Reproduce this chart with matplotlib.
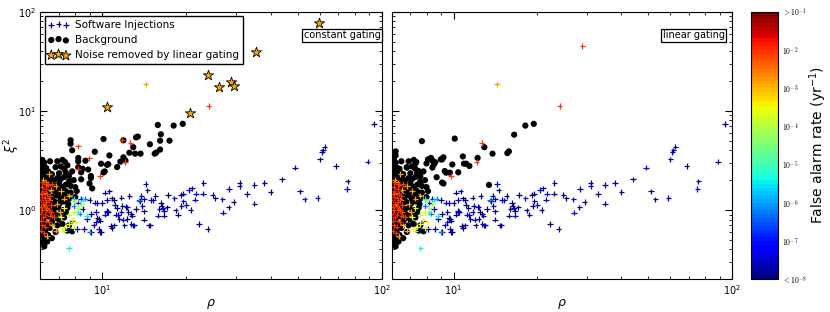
import numpy as np
import matplotlib
matplotlib.use('Agg')
import matplotlib.pyplot as plt
from matplotlib.colors import Normalize
from matplotlib.cm import ScalarMappable

# software injections (rho, xi^2), grouped by false alarm rate
inj_navy = [
    (94, 7.35), (61.5, 4.0), (62.5, 4.35), (60, 3.24), (68.5, 2.78), (75.5, 1.94), (53, 1.28),
    (51, 1.54), (44, 2.04), (40, 1.52), (35, 1.79), (35, 1.16), (31, 1.86), (29.5, 1.2),
    (28.4, 1.62), (28.3, 1.06), (25.4, 1.31), (23, 1.88), (22.9, 1.46), (23.8, 0.645),
    (22.2, 0.72), (20.9, 1.65), (20.7, 1.0), (19.4, 1.46), (19.2, 1.1), (18.7, 0.9),
    (18.3, 0.99), (16.6, 0.98), (16.2, 1.17), (16.0, 1.02), (15.5, 1.39), (14.7, 0.70),
    (14.5, 1.58), (14.1, 0.97), (14.1, 0.80), (13.6, 1.24), (13.2, 1.02), (12.9, 0.70),
    (12.4, 0.95), (12.3, 0.81), (12.0, 0.70), (11.8, 1.1), (11.7, 1.33), (11.5, 0.81),
    (11.3, 1.05), (11.1, 1.13), (10.8, 1.31), (10.8, 0.66), (10.6, 1.54), (10.5, 0.95),
    (10.2, 1.5), (9.9, 0.6), (9.8, 0.78), (9.6, 0.83), (9.4, 1.19), (9.3, 0.70), (9.1, 0.91),
    (8.8, 0.81), (8.6, 0.645), (8.5, 1.02), (8.1, 0.645), (7.6, 0.645), (12.5, 1.39),
    (13.8, 1.39), (17.2, 1.42), (19.1, 1.42), (17.1, 1.06), (16.3, 1.1), (15.8, 0.88),
    (14.8, 0.70), (13.9, 1.1), (12.7, 0.91), (12.2, 1.07), (11.9, 0.8), (13.0, 0.70),
    (11.4, 0.89), (11.0, 0.7), (10.4, 0.96), (9.7, 0.81), (9.8, 0.60), (9.1, 0.60),
    (10.7, 0.69), (9.0, 1.26), (10.0, 1.17), (11.0, 1.26), (20.0, 1.13), (24.8, 1.41),
    (33, 1.45), (38, 1.88),
]
inj_blue = [
    (89, 3.07), (75, 1.62), (61, 3.87), (59, 1.32), (49, 2.68), (31, 1.74), (27, 0.94),
    (26.9, 1.28), (21.6, 1.46), (19.5, 1.22), (18.1, 1.31), (16.5, 1.04), (15.2, 1.25),
    (14.3, 1.82), (14.1, 1.28), (12.8, 0.88), (12.3, 1.06), (11.7, 0.95), (11.2, 0.9),
    (10.4, 1.26), (10.4, 0.98), (9.7, 0.645), (9.5, 0.95), (9.5, 0.75), (8.4, 1.29),
    (8.2, 1.19), (7.8, 0.78), (16.6, 0.88), (12.7, 0.72), (14.9, 1.26), (21.5, 1.27),
    (20.4, 1.6), (10.2, 0.90), (9.6, 1.17),
]
inj_lblue = [(9.0, 0.6), (13.5, 1.25), (8.3, 0.92), (7.9, 1.1), (8.7, 1.3)]
inj_cyan = [(7.6, 0.41), (7.9, 1.29), (8.5, 1.27), (8.2, 0.95), (8.8, 0.88)]
inj_green = [(7.3, 0.62), (8.2, 1.05), (7.9, 0.66), (8.4, 1.15), (7.6, 0.9), (8.0, 1.22)]
inj_yellow = [(7.4, 0.68), (7.6, 0.72), (7.2, 0.65), (7.8, 0.8), (7.1, 0.85), (7.9, 0.95),
              (7.3, 1.05), (8.0, 0.75)]
inj_orange = [
    (6.3, 1.9), (6.55, 1.6), (6.8, 1.75), (7.1, 1.55), (7.3, 1.3), (7.6, 1.4), (6.9, 1.15),
    (7.05, 0.95), (6.6, 0.7), (6.35, 0.55), (6.45, 2.3), (6.15, 2.0), (6.8, 0.62), (6.2, 1.5),
    (14.3, 18.5),
]
inj_red = [
    (6.05, 0.62), (6.1, 0.7), (6.05, 0.78), (6.15, 0.85), (6.05, 0.92), (6.1, 1.0), (6.05, 1.08),
    (6.15, 1.15), (6.05, 1.25), (6.1, 1.35), (6.05, 1.45), (6.15, 1.55), (6.1, 1.7),
    (6.25, 0.68), (6.3, 0.78), (6.25, 0.9), (6.3, 1.0), (6.25, 1.1), (6.3, 1.2), (6.25, 1.32),
    (6.35, 1.45), (6.3, 1.62), (6.4, 1.8), (6.45, 0.75), (6.5, 0.88), (6.45, 1.0), (6.55, 1.12),
    (6.45, 1.25), (6.5, 1.38), (6.55, 0.95), (6.7, 0.85), (6.2, 0.58), (6.1, 1.9), (6.35, 1.05),
    (6.3, 1.82), (6.6, 1.82),
    (24, 11.2), (12.6, 4.75), (12.1, 3.05), (9.8, 2.2),
]
inj_darkred = [(6.05, 1.3), (6.1, 0.9), (6.2, 1.6)]
inj_red_left = [(11.75, 5.05), (8.99, 3.31), (8.17, 4.37), (8.17, 2.61)]
inj_red_right = [(29, 45)]

far_navy, far_blue, far_lblue, far_cyan = -8.5, -7.4, -6.3, -5.4
far_green, far_yellow, far_orange, far_red, far_darkred = -4.2, -3.6, -2.9, -2.05, -1.4

# background triggers
bg_cluster = [
    (6.1, 3.2), (6.2, 3.0), (6.5, 3.1), (6.9, 3.1), (7.2, 3.2), (7.35, 3.05),
    (6.1, 2.8), (6.3, 2.65), (6.8, 2.7), (7.1, 2.75), (7.3, 2.6), (6.15, 2.55),
    (6.1, 2.4), (6.25, 2.3), (6.4, 2.45), (6.6, 2.3), (7.0, 2.35), (7.4, 2.4), (7.6, 2.2), (7.8, 2.45),
    (6.1, 2.1), (6.3, 2.05), (6.5, 2.15), (6.7, 2.0), (6.9, 2.1), (7.1, 2.05), (7.3, 2.15),
    (7.6, 1.95), (7.9, 2.0),
    (6.1, 1.85), (6.2, 1.75), (6.4, 1.9), (6.6, 1.8), (6.8, 1.75), (7.0, 1.85), (7.2, 1.7),
    (7.4, 1.8), (7.7, 1.75), (8.0, 1.7),
    (6.1, 1.6), (6.3, 1.55), (6.5, 1.65), (6.75, 1.55), (6.95, 1.6), (7.15, 1.5), (7.4, 1.55),
    (7.7, 1.5), (8.1, 1.55),
    (6.1, 1.4), (6.25, 1.32), (6.45, 1.42), (6.65, 1.35), (6.9, 1.4), (7.1, 1.3), (7.35, 1.38),
    (7.6, 1.3), (8.0, 1.35),
    (6.1, 1.2), (6.35, 1.22), (6.55, 1.15), (6.8, 1.2), (7.05, 1.17), (7.3, 1.22), (7.55, 1.15),
    (6.1, 1.05), (6.2, 1.0), (6.45, 1.08), (6.7, 1.02), (6.95, 1.06), (7.25, 1.0), (7.5, 1.05),
    (6.1, 0.95), (6.3, 0.9), (6.55, 0.95), (6.8, 0.9), (7.1, 0.93), (7.4, 0.95),
    (6.1, 0.85), (6.2, 0.8), (6.45, 0.86), (6.7, 0.82), (7.0, 0.8), (7.3, 0.84),
    (6.1, 0.75), (6.3, 0.72), (6.6, 0.76), (6.9, 0.7), (7.2, 0.72), (7.6, 0.7),
    (6.1, 0.65), (6.25, 0.62), (6.5, 0.66), (6.8, 0.6), (7.5, 0.62), (7.8, 0.61),
    (6.1, 0.55), (6.2, 0.5), (6.4, 0.56), (6.6, 0.52),
    (6.1, 0.46), (6.2, 0.43), (6.35, 0.48),
]
bg_tail_left = [
    (15.8, 7.2), (18.0, 7.1), (19.4, 7.4), (16.2, 5.8), (13.4, 5.5), (13.2, 5.4), (10.1, 5.2),
    (11.9, 5.05), (14.8, 4.6), (17.4, 5.0), (16.1, 5.0), (16.1, 4.07), (15.6, 3.8), (15.4, 3.7),
    (12.9, 4.3), (12.5, 3.78), (13.1, 3.7), (13.7, 3.7), (11.9, 3.4), (12.1, 3.16), (11.6, 3.07),
    (11.3, 2.71), (10.6, 3.55), (10.5, 2.9), (10.4, 2.85), (9.9, 2.93), (10.2, 2.45), (10.1, 2.39),
    (9.4, 3.87), (8.7, 3.14), (8.5, 2.61), (8.9, 2.56), (9.1, 2.1), (9.0, 1.85), (8.4, 2.04),
    (8.2, 3.1), (8.2, 3.35), (7.7, 5.05), (7.7, 4.65), (7.8, 4.0), (7.5, 2.82), (8.2, 2.7),
    (8.4, 2.4), (9.1, 2.2), (9.2, 1.65),
]
bg_tail_right = [
    (19.4, 7.4), (18.1, 7.1), (16.5, 5.75), (15.8, 3.9), (15.6, 3.75), (13.8, 3.7), (12.9, 4.3),
    (12.2, 3.35), (10.8, 3.47), (10.9, 2.93), (11.1, 2.93), (11.4, 2.78), (10.1, 5.25),
    (9.9, 2.88), (9.7, 2.38), (10.4, 2.4), (9.2, 3.4), (9.0, 3.24), (8.5, 2.88), (8.6, 3.03),
    (8.3, 3.35), (8.4, 3.16), (9.3, 2.47), (9.4, 2.38), (9.1, 1.89), (9.2, 1.85), (8.7, 2.14),
    (13.4, 1.79), (7.7, 4.95), (8.0, 2.95), (7.3, 2.95), (8.1, 3.24), (8.4, 2.68), (9.1, 3.24),
    (7.5, 2.47), (6.8, 2.68), (6.4, 2.6), (6.2, 3.9), (6.2, 3.55), (6.1, 3.3),
]
# noise removed by linear gating (constant gating panel only)
gated = [(59.6, 77), (35.4, 39.3), (23.9, 22.9), (26.1, 17.5), (28.9, 19.6), (29.7, 17.8),
         (10.4, 10.9), (20.6, 9.5)]

far_ticks = [-8, -7, -6, -5, -4, -3, -2, -1]
far_labels = ['$<10^{-8}$', '$10^{-7}$', '$10^{-6}$', '$10^{-5}$', '$10^{-4}$',
              '$10^{-3}$', '$10^{-2}$', '$>10^{-1}$']

cmap = plt.get_cmap('jet', 70)
norm = Normalize(vmin=-8, vmax=-1)


def injections(extra_red):
    groups = [(inj_navy, far_navy), (inj_blue, far_blue), (inj_lblue, far_lblue),
              (inj_cyan, far_cyan), (inj_green, far_green), (inj_yellow, far_yellow),
              (inj_orange, far_orange), (inj_red + extra_red, far_red),
              (inj_darkred, far_darkred)]
    pts = np.array([p for g, f in groups for p in g], dtype=float)
    far = np.concatenate([np.full(len(g), f) for g, f in groups])
    return pts[:, 0], pts[:, 1], far


fig = plt.figure(figsize=(8.3, 3.12), dpi=100)
ax1 = fig.add_axes([0.0486, 0.1048, 0.4113, 0.8577])
ax2 = fig.add_axes([0.4719, 0.1048, 0.4104, 0.8577], sharey=ax1)
cax = fig.add_axes([0.9048, 0.1048, 0.0322, 0.8577])

panels = [(ax1, bg_cluster + bg_tail_left, inj_red_left, 'constant gating', 0.997),
          (ax2, bg_cluster + bg_tail_right, inj_red_right, 'linear gating', 0.978)]

for ax, bg, extra, name, xt in panels:
    bg = np.array(bg)
    hb = ax.scatter(bg[:, 0], bg[:, 1], s=20, c='k', edgecolors='none', zorder=2,
                    label='Background')
    r, x2, far = injections(extra)
    hi = ax.scatter(r, x2, c=far, cmap=cmap, norm=norm, marker='+', s=16, linewidths=0.9,
                    zorder=3, label='Software Injections')
    if ax is ax1:
        g = np.array(gated)
        hs = ax.scatter(g[:, 0], g[:, 1], marker='*', s=60, c='#FFA500', edgecolors='k',
                        linewidths=0.6, zorder=4, label='Noise removed by linear gating')
        ax.legend(handles=[hi, hb, hs], loc='upper left', scatterpoints=3, fontsize=7.5,
                  fancybox=False, edgecolor='k', framealpha=1, borderaxespad=0.4,
                  handletextpad=0.6, borderpad=0.35)
    ax.text(xt, 0.93, name, transform=ax.transAxes, ha='right', va='top', fontsize=7,
            bbox=dict(boxstyle='square,pad=0.15', fc='w', ec='k', lw=0.9), zorder=5)
    ax.set_xscale('log')
    ax.set_yscale('log')
    ax.set_xlim(6, 100)
    ax.set_ylim(0.2, 100)
    ax.set_xlabel(r'$\rho$', fontsize=9, labelpad=0)
    ax.tick_params(which='both', direction='in', top=True, right=True, labelsize=7, pad=3)
    ax.tick_params(which='major', length=5)
    ax.tick_params(which='minor', length=2.5)

ax1.set_ylabel(r'$\xi^2$', fontsize=9)
ax1.yaxis.set_label_coords(-0.055, 0.5)
plt.setp(ax2.get_yticklabels(), visible=False)

cb = fig.colorbar(ScalarMappable(norm=norm, cmap=cmap), cax=cax, ticks=far_ticks)
cb.ax.set_yticklabels(far_labels, fontsize=5.5, math_fontfamily='cm')
cb.ax.tick_params(length=0, pad=3)
cb.set_label('False alarm rate (yr$^{-1}$)', fontsize=10, labelpad=0)

plt.savefig('out.png', dpi=100)
plt.close()
